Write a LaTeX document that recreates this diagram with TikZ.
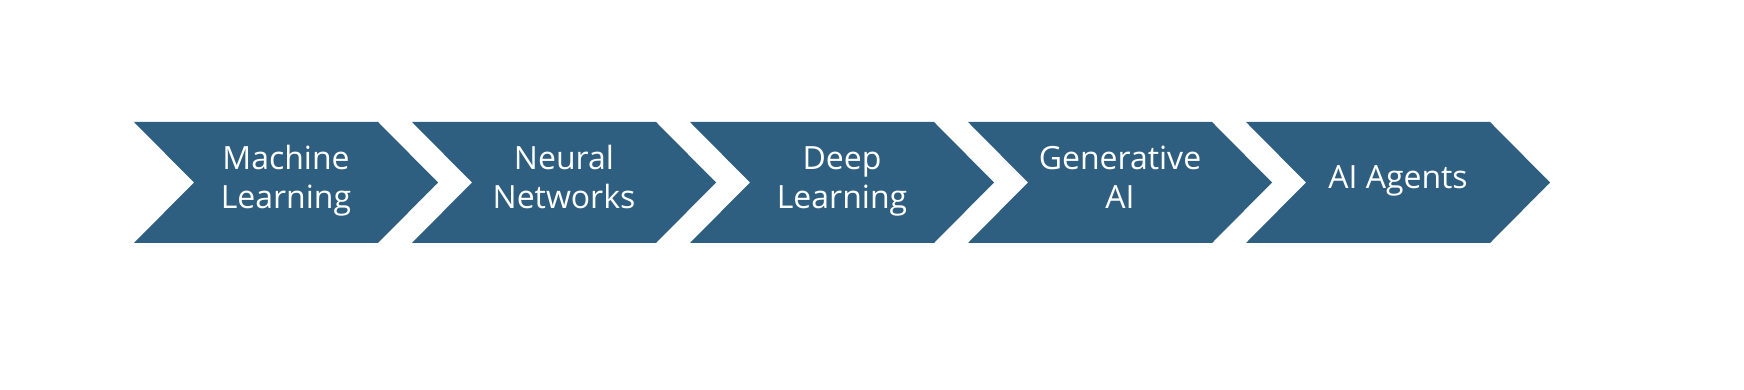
\documentclass[tikz,border=0pt]{standalone}
\usepackage{fontspec}
\setmainfont{Open Sans}
\definecolor{chevblue}{HTML}{2F5F80}
\tikzset{
  chevron/.style={fill=chevblue, draw=none},
  steplabel/.style={text=white, align=center, inner sep=0pt, font=\fontsize{32}{39}\selectfont}
}

\begin{document}
\begin{tikzpicture}[x=1pt,y=1pt]
    \useasboundingbox (0,0) rectangle (1744,390);

    % Chevrons
    \foreach \i/\nm/\txt in {0/ml/{Machine\\Learning}, 1/nn/{Neural\\Networks}, 2/dl/{Deep\\Learning}, 3/genai/{Generative\\AI}, 4/agents/{AI Agents}} {
        \pgfmathsetmacro{\xa}{134+278*\i}
        \fill[chevron] (\xa,268) -- ++(244,0) -- ++(60,-60.5) -- ++(-60,-60.5) -- (\xa,147) -- ++(60,60.5) -- cycle;
        \node[steplabel] (\nm) at (\xa+152,209) {\strut\txt\strut};
    }
\end{tikzpicture}
\end{document}
